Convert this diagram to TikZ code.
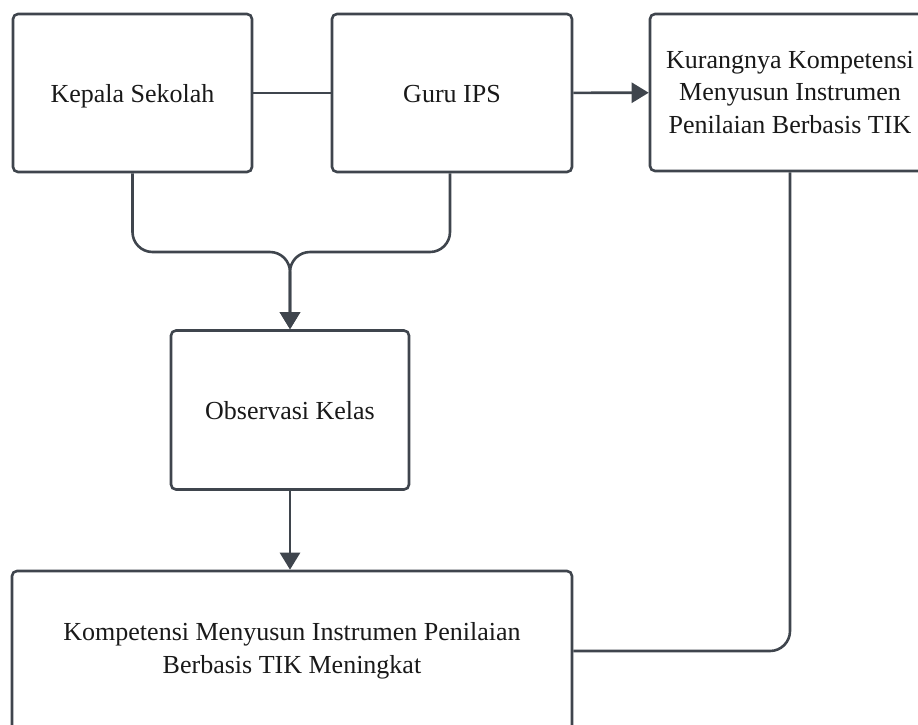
\documentclass[tikz,border=0pt]{standalone}
\usepackage{fontspec}
\setmainfont{Liberation Serif}
\usetikzlibrary{arrows.meta}
\definecolor{ln}{HTML}{3F454D}
\begin{document}
\begin{tikzpicture}[x=1pt,y=-1pt,
  box/.style={draw=ln,line width=2.6pt,rounded corners=5pt,fill=white,align=center,
    font=\fontsize{26}{32.5}\selectfont,text=black!90,inner sep=0pt},
  oneline/.style={text height=20pt,text depth=2pt},
  conn/.style={draw=ln,line width=2.6pt},
  arr/.style={conn,-{Triangle[length=17pt,width=20pt]}}]
\useasboundingbox (0,0) rectangle (918,724);
\clip (0,0) rectangle (918,724);
\node[box,oneline,minimum width=239pt,minimum height=158pt] (kepala) at (132.5,93) {Kepala Sekolah};
\node[box,oneline,minimum width=240pt,minimum height=158pt] (guru) at (452,93) {Guru IPS};
\node[box,minimum width=280pt,minimum height=157pt] (kurang) at (790,92.5) {Kurangnya Kompetensi\\Menyusun Instrumen\\Penilaian Berbasis TIK};
\node[box,oneline,minimum width=238pt,minimum height=159pt] (obs) at (290,410) {Observasi Kelas};
\node[box,minimum width=560pt,minimum height=160pt] (hasil) at (292,651) {Kompetensi Menyusun Instrumen Penilaian\\Berbasis TIK Meningkat};
\coordinate (m) at (290,252);
\draw[conn] (kepala) -- (guru);
\draw[arr] (guru) -- (kurang);
\draw[arr,rounded corners=20pt] (kepala.south) |- (m) -- (obs.north);
\draw[arr,rounded corners=20pt] (guru.south -| 450,0) |- (m) -- (obs.north);
\draw[arr] (obs.south) -- (obs.south |- hasil.north);
\draw[conn,rounded corners=20pt] (kurang.south) |- (hasil.east);
\end{tikzpicture}
\end{document}
